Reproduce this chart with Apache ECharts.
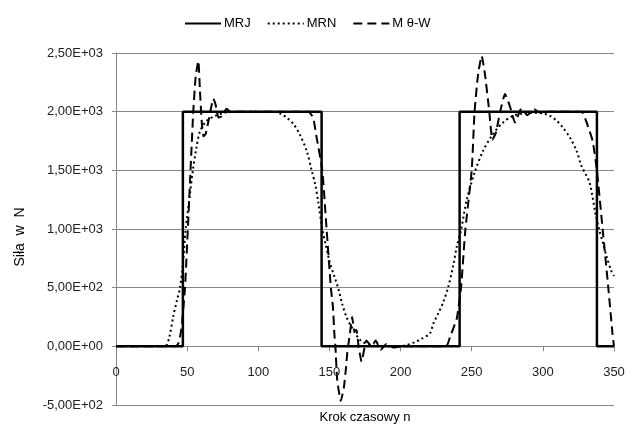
<!DOCTYPE html>
<html>
<head>
<meta charset="utf-8">
<script src="https://cdn.jsdelivr.net/npm/echarts@6/dist/echarts.min.js"></script>
<style>html,body{margin:0;padding:0;background:#fff}#c{width:627px;height:428px}</style>
</head>
<body>
<div id="c"></div>
<script>
const seriesNames = ["MRJ", "MRN", "M θ-W"];
const yTickLabels = ["-5,00E+02","0,00E+00","5,00E+02","1,00E+03","1,50E+03","2,00E+03","2,50E+03"];
const mrjData = [[0,0],[47,0],[47,2000],[144.5,2000],[144.5,0],[241.5,0],[241.5,2000],[338,2000],[338,0],[350,0]];
const mrnData = [[0,0],[30,0],[35,5],[37.5,80],[40.3,260],[43,400],[45,500],[47,700],[49,1000],[52,1300],[54,1500],[56.5,1690],[59,1830],[63.7,1922],[70,1965],[76,1990],[82,2000],[110,2000],[115,1985],[120,1950],[125,1890],[129,1810],[134,1667],[137.5,1500],[140,1380],[142,1241],[145,1000],[147.5,860],[150.4,710],[153.9,580],[156.3,490],[159,360],[162,250],[165.6,164],[171.5,55],[178.5,10],[185,3],[200,0],[204,10],[210,35],[215,66],[220.6,110],[223,193],[226.5,280],[230,377],[233.5,505],[237,689],[239.4,844],[242.5,990],[246.5,1250],[252,1480],[258,1667],[265,1810],[272,1908],[279,1964],[286,1985],[293,1990],[300,1985],[305,1964],[310,1920],[314,1866],[319,1780],[323.7,1667],[327,1540],[330,1470],[333,1390],[337,1130],[339.5,1000],[342,890],[345,757],[348,646],[350,600]];
const mtwData = [[0,0],[42,0],[44,30],[46,150],[48.5,500],[50.5,1000],[52,1400],[54.3,2000],[56,2300],[57.9,2432],[59,2177],[60.2,1922],[61.5,1790],[63,1810],[65.5,1950],[68.4,2109],[70,2060],[72,1950],[74,1960],[77.8,2024],[81,1990],[85,2000],[135,2000],[138.5,1950],[141,1780],[145,1500],[148,1000],[151,500],[152.5,330],[153.5,100],[154.2,0],[155.5,-290],[158,-465],[160.2,-346],[161.6,-190],[162.6,-50],[164.4,110],[166,250],[167.5,130],[169,140],[170.5,0],[172.6,-130],[176,50],[179.7,0],[182.5,50],[186,-30],[190,20],[195,-10],[200,0],[232,0],[234.7,77],[239.5,238],[242.5,500],[245.5,990],[250,1500],[252,2000],[254.5,2320],[257,2475],[259.3,2320],[262.3,2006],[264.5,1760],[267,1820],[270,2000],[273.4,2150],[277,2040],[280.4,1908],[285,2030],[289,1970],[294,2020],[298,1990],[302,2000],[326,2000],[328,1990],[331,1900],[335,1750],[338,1500],[342,1000],[346,500],[349,100],[350,0]];

const chart = echarts.init(document.getElementById('c'), null, {renderer: 'canvas'});
const font = 'Liberation Sans';
chart.setOption({
  animation: false,
  backgroundColor: '#fff',
  legend: {
    left: 179, top: 12,
    itemWidth: 36, itemHeight: 14, itemGap: 16,
    itemStyle: {opacity: 0},
    textStyle: {fontFamily: font, fontSize: 13, color: '#000', padding: [0,0,0,-2]},
    data: seriesNames
  },
  grid: {left: 116, right: 13, top: 53, bottom: 23, containLabel: false, outerBoundsMode: 'none'},
  xAxis: {
    type: 'value', min: 0, max: 350, interval: 50,
    position: 'bottom', offset: -58.7,
    name: 'Krok czasowy n', nameLocation: 'middle', nameGap: 65,
    nameTextStyle: {fontFamily: font, fontSize: 13, color: '#000'},
    axisLine: {onZero: false, lineStyle: {color: '#888', width: 1}},
    axisTick: {show: true, length: 5, lineStyle: {color: '#888'}},
    axisLabel: {fontFamily: font, fontSize: 13, color: '#222', margin: 20},
    splitLine: {show: false}
  },
  yAxis: {
    type: 'value', min: -500, max: 2500, interval: 500,
    name: 'Siła  w  N', nameLocation: 'middle', nameGap: 89, nameRotate: 90,
    nameTextStyle: {fontFamily: font, fontSize: 14, color: '#000', padding: [0, 16, 0, 0]},
    axisLine: {show: true, onZero: false, lineStyle: {color: '#888', width: 1}},
    axisTick: {show: true, length: 4, lineStyle: {color: '#888'}},
    axisLabel: {fontFamily: font, fontSize: 13, color: '#222', margin: 13,
      formatter: v => yTickLabels[Math.round((v + 500) / 500)]},
    splitLine: {show: true, lineStyle: {color: '#888', width: 1}}
  },
  series: [
    {name: seriesNames[0], type: 'line', data: mrjData, symbol: 'none', z: 3,
      lineStyle: {color: '#000', width: 2.5, type: 'solid'}, itemStyle: {color: '#000'}},
    {name: seriesNames[1], type: 'line', data: mrnData, symbol: 'none', smooth: 0.3, z: 2,
      lineStyle: {color: '#000', width: 2, type: [2, 3]}, itemStyle: {color: '#000'}},
    {name: seriesNames[2], type: 'line', data: mtwData, symbol: 'none', smooth: 0.15, z: 4,
      lineStyle: {color: '#000', width: 2, type: [9, 5]}, itemStyle: {color: '#000'}}
  ]
});
</script>
</body>
</html>
